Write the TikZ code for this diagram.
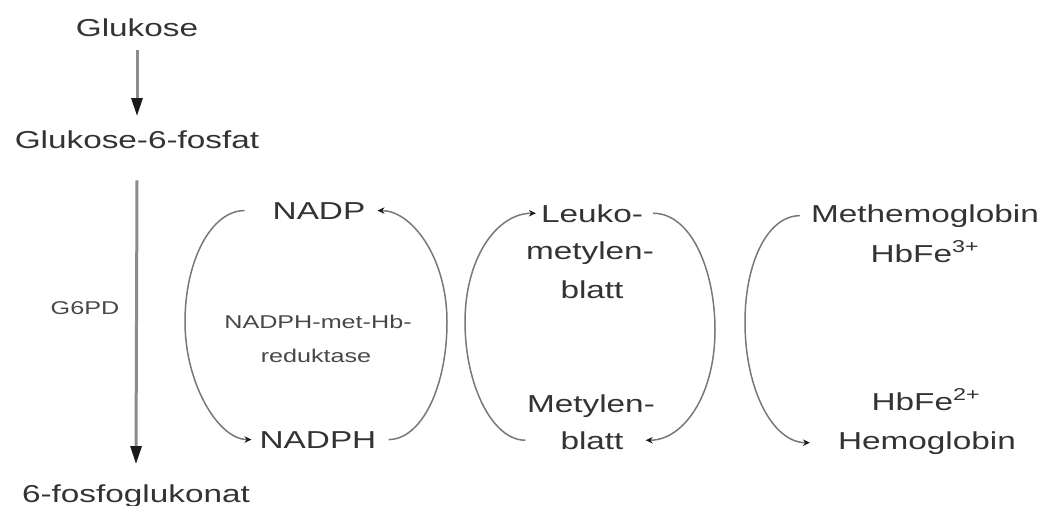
\documentclass[tikz,border=0pt]{standalone}
\usepackage{graphicx}
\usepackage{fontspec}
\setmainfont{Liberation Sans}
\usetikzlibrary{arrows.meta}
\definecolor{txt}{HTML}{333333}
\definecolor{txtsm}{HTML}{474747}
\definecolor{ln}{HTML}{787878}
\definecolor{shaft}{HTML}{8C8C8C}
\definecolor{tipc}{HTML}{1A1A1A}
% wide lettering
\newcommand{\wtext}[1]{\scalebox{1.36}[1]{#1}}
\begin{document}
\begin{tikzpicture}[x=1pt,y=-1pt,
  lbl/.style={text=txt, inner sep=0pt, anchor=base, font=\fontsize{24.5}{24.5}\selectfont},
  sml/.style={lbl, text=txtsm, font=\fontsize{18.5}{18.5}\selectfont},
  cyc/.style={draw=ln, line width=1.5pt, -{Stealth[length=7pt,width=6.5pt,color=tipc]}},
  mainarr/.style={draw=shaft, line width=3pt, -{Triangle[length=18pt,width=11pt,color=tipc]}}]
\useasboundingbox (0,0) rectangle (1045,506);

% pathway on the left
\node[lbl] (glu) at (137,36) {\wtext{Glukose}};
\node[lbl] (g6p) at (137,148) {\wtext{Glukose-6-fosfat}};
\node[lbl] (pg) at (136,502) {\wtext{6-fosfoglukonat}};
\node[sml] (g6pd) at (85,314) {\wtext{G6PD}};
\draw[mainarr] ([yshift=-14pt]glu.south) -- ([yshift=14pt]g6p.north);
\draw[mainarr] ([yshift=-32pt]g6p.south) -- ([yshift=20pt]pg.north);

% NADP / NADPH cycle
\node[lbl] (nadp) at (319,219) {\wtext{NADP}};
\node[lbl] (nadph) at (318,448) {\wtext{NADPH}};
\node[sml] (enza) at (318,328) {\wtext{NADPH-met-Hb-}};
\node[sml] (enzb) at (316,362) {\wtext{reduktase}};
\draw[cyc] ([xshift=-28pt]nadp.west) .. controls +(-33,0) and (185,260) .. (185,322)
  .. controls (185,384) and +(-33,0) .. ([xshift=-8pt]nadph.west);
\draw[cyc] ([xshift=12pt]nadph.east) .. controls +(33,0) and (447,387) .. (447,322)
  .. controls (447,257) and +(34,0) .. ([xshift=12pt]nadp.east);

% methylene blue cycle
\node[lbl] (leuk) at (592,222) {\wtext{Leuko-}};
\node[lbl] (meta) at (590,259) {\wtext{metylen-}};
\node[lbl] (blta) at (592,298) {\wtext{blatt}};
\node[lbl] (metb) at (591,412) {\wtext{Metylen-}};
\node[lbl] (bltb) at (592,449) {\wtext{blatt}};
\draw[cyc] ([xshift=-35pt]bltb.west) .. controls +(-33,0) and (465,385) .. (465,322)
  .. controls (465,258) and +(-39,0) .. ([xshift=-5pt]leuk.west);
\draw[cyc] ([xshift=10pt]leuk.east) .. controls +(38,0) and (715,270) .. (715,330)
  .. controls (715,395) and +(38,0) .. ([xshift=22pt]bltb.east);

% haemoglobin
\node[lbl] (methb) at (925,222) {\wtext{Methemoglobin}};
\node[lbl] (fe3) at (925,262) {\wtext{HbFe\textsuperscript{3+}}};
\node[lbl] (fe2) at (926,410) {\wtext{HbFe\textsuperscript{2+}}};
\node[lbl] (hb) at (927,449) {\wtext{Hemoglobin}};
\draw[cyc] ([xshift=-11pt]methb.west) .. controls +(-32,0) and (745,262) .. (745,322)
  .. controls (745,390) and +(-37,0) .. ([xshift=-28pt]hb.west);
\end{tikzpicture}
\end{document}
